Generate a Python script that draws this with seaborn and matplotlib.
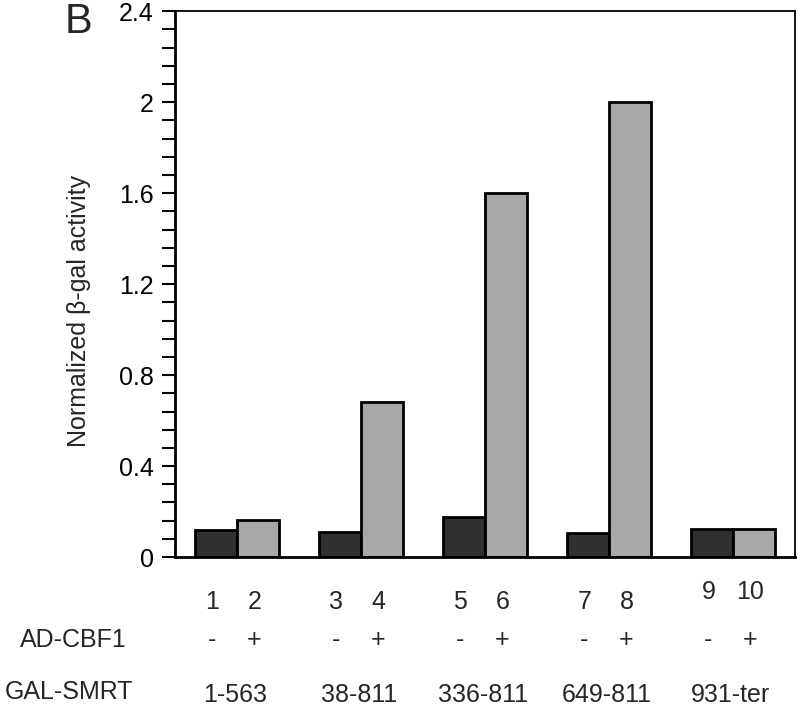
import matplotlib
matplotlib.use("Agg")
import matplotlib.pyplot as plt
import numpy as np
import pandas as pd
import seaborn as sns
from matplotlib.ticker import MultipleLocator

# ---- data ----
constructs = ["1-563", "38-811", "336-811", "649-811", "931-ter"]
minus_cbf1 = [0.117, 0.112, 0.175, 0.105, 0.122]
plus_cbf1 = [0.165, 0.68, 1.60, 2.00, 0.122]
lane_numbers = ["1", "2", "3", "4", "5", "6", "7", "8", "9", "10"]
cbf1_states = ["-", "+"]

df = pd.DataFrame({
    "construct": constructs * 2,
    "cbf1": ["-"] * len(constructs) + ["+"] * len(constructs),
    "value": minus_cbf1 + plus_cbf1,
})

sns.set_theme(style="white")
plt.rcParams["font.family"] = ["Liberation Sans", "DejaVu Sans"]
plt.rcParams["font.size"] = 18

fig = plt.figure(figsize=(8, 7.06), dpi=100)
ax = fig.add_axes([0.219, 0.211, 0.775, 0.773])

sns.barplot(data=df, x="construct", y="value", hue="cbf1", order=constructs,
            hue_order=cbf1_states, palette={"-": "#303030", "+": "#a8a8a8"},
            width=0.68, edgecolor="black", linewidth=2.0, saturation=1,
            legend=False, ax=ax)

ax.set_xlim(-0.5, 4.5)
ax.set_ylim(0, 2.4)
ax.yaxis.set_minor_locator(MultipleLocator(0.08))
ax.set_yticks(np.arange(0, 2.41, 0.4))
ax.set_yticklabels(["0", "0.4", "0.8", "1.2", "1.6", "2", "2.4"])
ax.tick_params(axis="y", which="both", direction="out", length=9.5, width=1.5,
               left=True, pad=6, labelsize=18, colors="black")
ax.tick_params(axis="x", bottom=False, labelbottom=False)
ax.set_xlabel("")
ax.set_ylabel("Normalized β-gal activity", fontsize=18)
ax.yaxis.set_label_coords(-0.135, 0.45)

for side in ["left", "bottom"]:
    ax.spines[side].set_linewidth(2)
for side in ["top", "right"]:
    ax.spines[side].set_linewidth(1.3)
for s in ax.spines.values():
    s.set_color("black")

# lane numbers and +/- rows under the bars
trans = ax.get_xaxis_transform()
for i, name in enumerate(constructs):
    num_y = -0.064 if i == len(constructs) - 1 else -0.082
    for j, state in enumerate(cbf1_states):
        xpos = i + (j - 0.5) * 0.34 - 0.03
        ax.text(xpos, num_y, lane_numbers[2 * i + j], transform=trans,
                ha="center", va="center", fontsize=18)
        ax.text(xpos, -0.152, state, transform=trans,
                ha="center", va="center", fontsize=18)
    ax.text(i - 0.02, -0.253, name, transform=trans, ha="center", va="center",
            fontsize=18)

fig.text(0.025, (706 - 640) / 706, "AD-CBF1", ha="left", va="center", fontsize=18)
fig.text(0.006, (706 - 692) / 706, "GAL-SMRT", ha="left", va="center", fontsize=18)
fig.text(0.081, (706 - 33) / 706, "B", ha="left", va="baseline", fontsize=30)

fig.savefig("out.png", dpi=100)
